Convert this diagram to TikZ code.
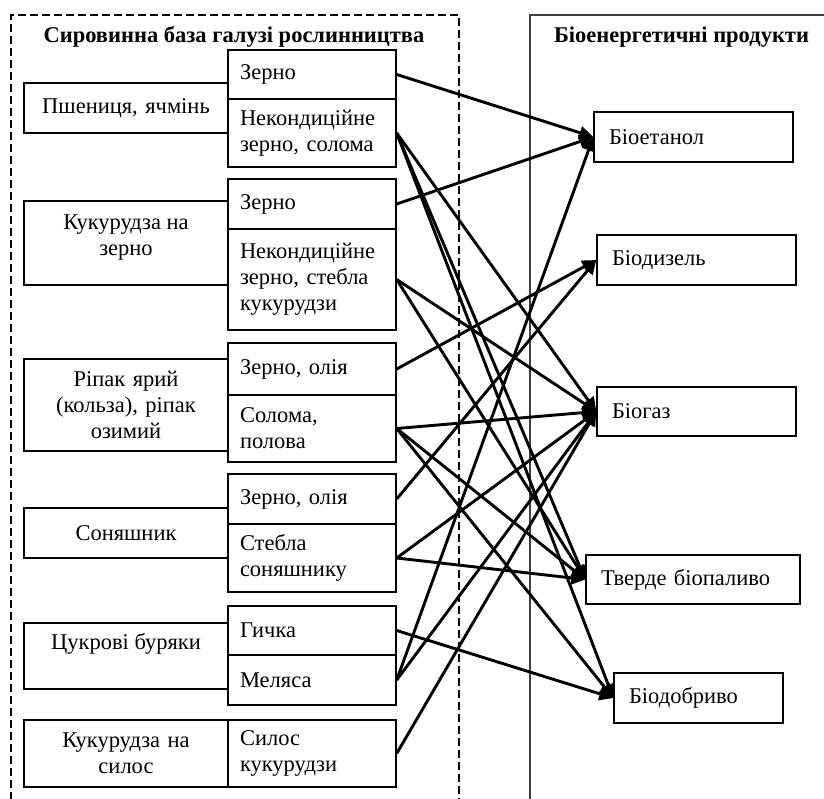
\documentclass[tikz,border=0pt]{standalone}
\usepackage{fontspec}
\setmainfont{Liberation Serif}
\usetikzlibrary{arrows.meta}
\begin{document}
\begin{tikzpicture}[x=1pt,y=-1pt,
  txt/.style={font=\fontsize{22.5}{26}\selectfont},
  main/.style={txt, draw, line width=1.4pt, minimum width=204pt, text width=192pt, inner xsep=6pt, align=center},
  sub/.style={txt, draw, line width=1.4pt, minimum width=168pt, text width=144pt, inner xsep=12pt, align=left},
  prod/.style={txt, draw, line width=1.4pt, align=left, inner xsep=15pt},
  ttl/.style={font=\fontsize{22.5}{26}\selectfont\bfseries},
  conn/.style={line width=2.9pt, -{Triangle[length=14pt,width=13pt]}},
  dframe/.style={line width=2.2pt, dash pattern=on 8pt off 4pt},
  sframe/.style={line width=1.4pt, black!75}]
\useasboundingbox (0,0) rectangle (824,798);

% frames
\draw[dframe] (11,800) -- (11,15) -- (459,15) -- (459,800);
\draw[sframe] (530,800) -- (530,15) -- (826,15);

% titles
\node[ttl] (t1) at (234,37) {Сировинна база галузі рослинництва};
\node[ttl] (t2) at (681.5,37) {Біоенергетичні продукти};

% crops
\node[main, minimum height=50pt] (m1) at (126,108) {Пшениця, ячмінь};
\node[main, minimum height=84pt] (m2) at (126,243) {};
\node[txt, align=center] (m2t) at (126,238) {Кукурудза на\\зерно};
\node[main, minimum height=92pt] (m3) at (126,405) {Ріпак ярий\\(кольза), ріпак\\озимий};
\node[main, minimum height=50pt] (m4) at (126,533) {Соняшник};
\node[main, minimum height=66pt] (m5) at (126,656) {};
\node[txt] (m5t) at (126,643.5) {Цукрові буряки};
\node[main, minimum height=67pt] (m6) at (126,753.5) {Кукурудза на\\силос};

% raw materials
\node[sub, minimum height=49pt] (s1) at (312,74.5) {Зерно};
\node[sub, minimum height=68pt] (s2) at (312,133) {Некондиційне\\зерно, солома};
\node[sub, minimum height=50pt] (s3) at (312,204) {Зерно};
\node[sub, minimum height=101pt] (s4) at (312,279.5) {Некондиційне\\зерно, стебла\\кукурудзи};
\node[sub, minimum height=52pt] (s5) at (312,369) {Зерно, олія};
\node[sub, minimum height=67pt] (s6) at (312,428.5) {Солома,\\полова};
\node[sub, minimum height=50pt] (s7) at (312,499) {Зерно, олія};
\node[sub, minimum height=68pt] (s8) at (312,558) {Стебла\\соняшнику};
\node[sub, minimum height=49pt] (s9) at (312,630.5) {Гичка};
\node[sub, minimum height=50pt] (s10) at (312,680) {Меляса};
\node[sub, minimum height=67pt] (s11) at (312,753.5) {Силос\\кукурудзи};

% products
\node[prod, minimum width=199pt, text width=169pt, minimum height=50pt] (ET) at (693.5,137) {Біоетанол};
\node[prod, minimum width=199pt, text width=169pt, minimum height=50pt] (BD) at (696.5,260) {Біодизель};
\node[prod, minimum width=199pt, text width=169pt, minimum height=49pt] (BG) at (696.5,411.5) {Біогаз};
\node[prod, minimum width=214pt, text width=184pt, minimum height=49pt] (TB) at (693,579.5) {Тверде біопаливо};
\node[prod, minimum width=169pt, text width=139pt, minimum height=50pt] (DO) at (698.5,698) {Біодобриво};

% connectors
\draw[conn] (s1.east) -- (ET.west);
\draw[conn] (s3.east) -- (ET.west);
\draw[conn] (s10.east) -- (ET.west);
\draw[conn] (s5.east) -- (BD.west);
\draw[conn] (s7.east) -- (BD.west);
\draw[conn] (s2.east) -- (BG.west);
\draw[conn] (s4.east) -- (BG.west);
\draw[conn] (s6.east) -- (BG.west);
\draw[conn] (s8.east) -- (BG.west);
\draw[conn] (s10.east) -- (BG.west);
\draw[conn] (s11.east) -- (BG.west);
\draw[conn] (s2.east) -- (TB.west);
\draw[conn] (s4.east) -- (TB.west);
\draw[conn] (s6.east) -- (TB.west);
\draw[conn] (s8.east) -- (TB.west);
\draw[conn] (s2.east) -- (DO.west);
\draw[conn] (s6.east) -- (DO.west);
\draw[conn] (s9.east) -- (DO.west);
\end{tikzpicture}
\end{document}
